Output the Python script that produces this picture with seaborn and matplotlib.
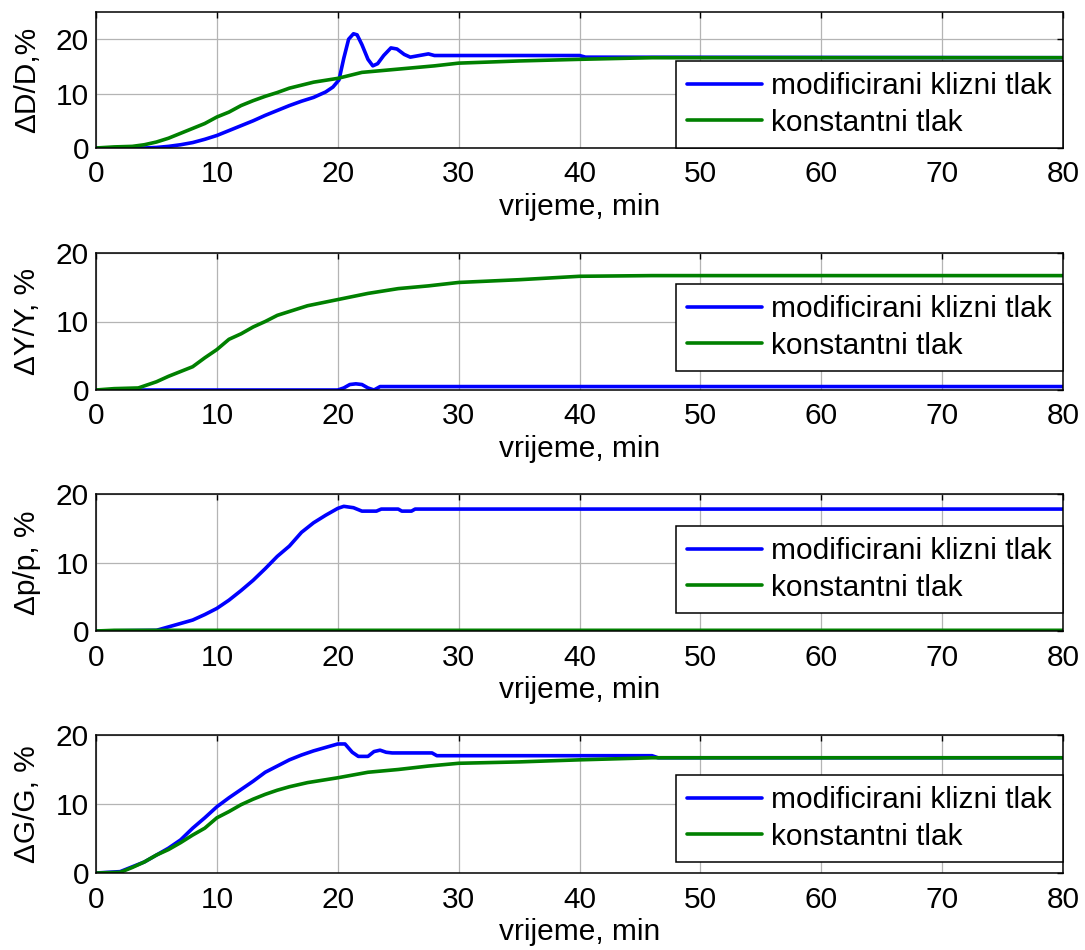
import numpy as np
import pandas as pd
import matplotlib
matplotlib.use("Agg")
import matplotlib.pyplot as plt
import seaborn as sns

sns.set_theme(style="white")
plt.rcParams['font.family'] = ['Liberation Sans', 'DejaVu Sans']
plt.rcParams['font.size'] = 21.5
plt.rcParams['text.color'] = 'black'
plt.rcParams['axes.labelcolor'] = 'black'
plt.rcParams['xtick.color'] = 'black'
plt.rcParams['ytick.color'] = 'black'

FS = 21.5
LBL_MOD = "modificirani klizni tlak"
LBL_KON = "konstantni tlak"
XLABEL = "vrijeme, min"

# Panel 1: dD/D
d_mod_t = [0, 4, 5, 6, 7, 8, 9, 10, 11, 12, 13, 14, 15, 16, 17, 18, 19, 19.6, 20.1, 20.5, 20.9, 21.3, 21.6,
           22.0, 22.5, 22.9, 23.3, 23.8, 24.4, 24.9, 25.5, 26.0, 26.5, 27.5, 28.0, 40.0, 40.5, 80]
d_mod_v = [0, 0, 0.1, 0.3, 0.6, 1.0, 1.6, 2.3, 3.2, 4.1, 5.0, 6.0, 6.9, 7.8, 8.6, 9.3, 10.3, 11.2, 12.5, 16.5,
           20.0, 21.0, 20.8, 19.0, 16.3, 15.1, 15.5, 17.0, 18.4, 18.2, 17.2, 16.7, 16.9, 17.3, 17.0, 17.0, 16.7, 16.6]
d_kon_t = [0, 1.5, 3, 4, 5, 6, 7, 8, 9, 10, 11, 12, 13, 14, 15, 16, 18, 20, 22, 25, 28, 30, 35, 40, 46, 80]
d_kon_v = [0, 0.2, 0.3, 0.6, 1.1, 1.8, 2.7, 3.6, 4.5, 5.7, 6.6, 7.8, 8.7, 9.5, 10.2, 11.0, 12.1, 12.8,
           13.9, 14.5, 15.1, 15.6, 16.0, 16.3, 16.6, 16.6]

# Panel 2: dY/Y
y_mod_t = [0, 20, 20.5, 21, 21.5, 22, 22.5, 23, 23.5, 80]
y_mod_v = [0, 0, 0.3, 0.8, 0.9, 0.8, 0.3, 0.0, 0.5, 0.5]
y_kon_t = [0, 1.5, 3.5, 5, 6, 7, 8, 9, 10, 11, 12, 13, 14, 15, 17.5, 20, 22.5, 25, 27.5, 30, 35, 40, 46, 80]
y_kon_v = [0, 0.2, 0.3, 1.2, 2.0, 2.7, 3.4, 4.7, 5.9, 7.4, 8.2, 9.2, 10.0, 10.9, 12.3, 13.2, 14.1, 14.8,
           15.2, 15.7, 16.1, 16.6, 16.7, 16.7]

# Panel 3: dp/p
p_mod_t = [0, 5, 6, 7, 8, 9, 10, 11, 12, 13, 14, 15, 16, 17, 18, 19, 20, 20.5, 21.3, 22.0, 23.2, 23.6,
           25.0, 25.3, 26.1, 26.4, 80]
p_mod_v = [0, 0.1, 0.6, 1.1, 1.6, 2.4, 3.3, 4.5, 5.9, 7.4, 9.1, 10.9, 12.4, 14.4, 15.8, 16.9, 17.9, 18.2,
           18.0, 17.5, 17.5, 17.8, 17.8, 17.5, 17.5, 17.8, 17.8]
p_kon_t = [0, 1.5, 80]
p_kon_v = [0, 0.1, 0.1]

# Panel 4: dG/G
g_mod_t = [0, 2, 3, 4, 5, 6, 7, 8, 9, 10, 11, 12, 13, 14, 15, 16, 17, 18, 19, 20, 20.6, 21.2, 21.7, 22.5,
           23.0, 23.5, 24.0, 24.5, 27.8, 28.2, 46.0, 46.5, 80]
g_mod_v = [0, 0.2, 0.9, 1.6, 2.6, 3.6, 4.8, 6.5, 8.0, 9.6, 10.9, 12.1, 13.3, 14.6, 15.5, 16.4, 17.1, 17.7,
           18.2, 18.7, 18.7, 17.5, 16.9, 16.9, 17.6, 17.8, 17.5, 17.4, 17.4, 17.0, 17.0, 16.7, 16.7]
g_kon_t = [0, 2, 3, 4, 5, 6, 7, 8, 9, 10, 11, 12, 13, 14, 15, 16, 17.5, 20, 22.5, 25, 27.5, 30, 35, 40, 46, 80]
g_kon_v = [0, 0.1, 0.8, 1.6, 2.6, 3.4, 4.4, 5.5, 6.5, 8.0, 8.9, 9.9, 10.7, 11.4, 12.0, 12.5, 13.1, 13.8,
           14.6, 15.0, 15.5, 15.9, 16.1, 16.4, 16.7, 16.7]

YLABELS = ["\u0394D/D,%", "\u0394Y/Y, %", "\u0394p/p, %", "\u0394G/G, %"]
YMAX = [25, 20, 20, 20]
YTICKS = [0, 10, 20]
XTICKS = [0, 10, 20, 30, 40, 50, 60, 70, 80]

panels = [(d_mod_t, d_mod_v, d_kon_t, d_kon_v),
          (y_mod_t, y_mod_v, y_kon_t, y_kon_v),
          (p_mod_t, p_mod_v, p_kon_t, p_kon_v),
          (g_mod_t, g_mod_v, g_kon_t, g_kon_v)]

fig = plt.figure(figsize=(10.85, 9.5), dpi=100)
W, H = 1085, 950
left, right = 96, 1063
tops = [12, 253, 494, 735]
bottoms = [148, 390, 631, 873]
leg_off = [0.0, 0.139, 0.131, 0.08]

BLUE = "#0000ff"
GREEN = "#008000"

for i, (mt, mv, kt, kv) in enumerate(panels):
    ax = fig.add_axes([left / W, 1 - bottoms[i] / H, (right - left) / W, (bottoms[i] - tops[i]) / H])
    df_m = pd.DataFrame({"t": mt, "v": mv})
    df_k = pd.DataFrame({"t": kt, "v": kv})
    sns.lineplot(data=df_m, x="t", y="v", ax=ax, color=BLUE, lw=2.6, label=LBL_MOD, estimator=None)
    sns.lineplot(data=df_k, x="t", y="v", ax=ax, color=GREEN, lw=2.6, label=LBL_KON, estimator=None)
    ax.set_xlim(0, 80)
    ax.set_ylim(0, YMAX[i])
    ax.set_xticks(XTICKS)
    ax.set_yticks(YTICKS)
    ax.grid(True, color="#b4b4b4", lw=0.9)
    ax.tick_params(direction="in", length=4, width=1, top=True, right=True,
                   labelsize=FS, colors="black")
    ax.tick_params(axis="x", pad=9)
    ax.tick_params(axis="y", pad=5)
    for s in ax.spines.values():
        s.set_color("black")
        s.set_linewidth(1.1)
        s.set_visible(True)
    ax.set_xlabel(XLABEL, fontsize=FS, labelpad=3)
    ax.set_ylabel(YLABELS[i], fontsize=FS)
    ax.yaxis.set_label_coords(-0.057, 0.5)
    leg = ax.legend(loc="lower right", bbox_to_anchor=(1.0, leg_off[i]), borderaxespad=0,
                    fontsize=FS, frameon=True, fancybox=False, edgecolor="black",
                    framealpha=1, handlelength=2.5, handletextpad=0.3, labelspacing=0.28,
                    borderpad=0.38)
    leg.get_frame().set_linewidth(1.1)
    for txt in leg.get_texts():
        txt.set_color("black")

fig.savefig("out.png", dpi=100)
